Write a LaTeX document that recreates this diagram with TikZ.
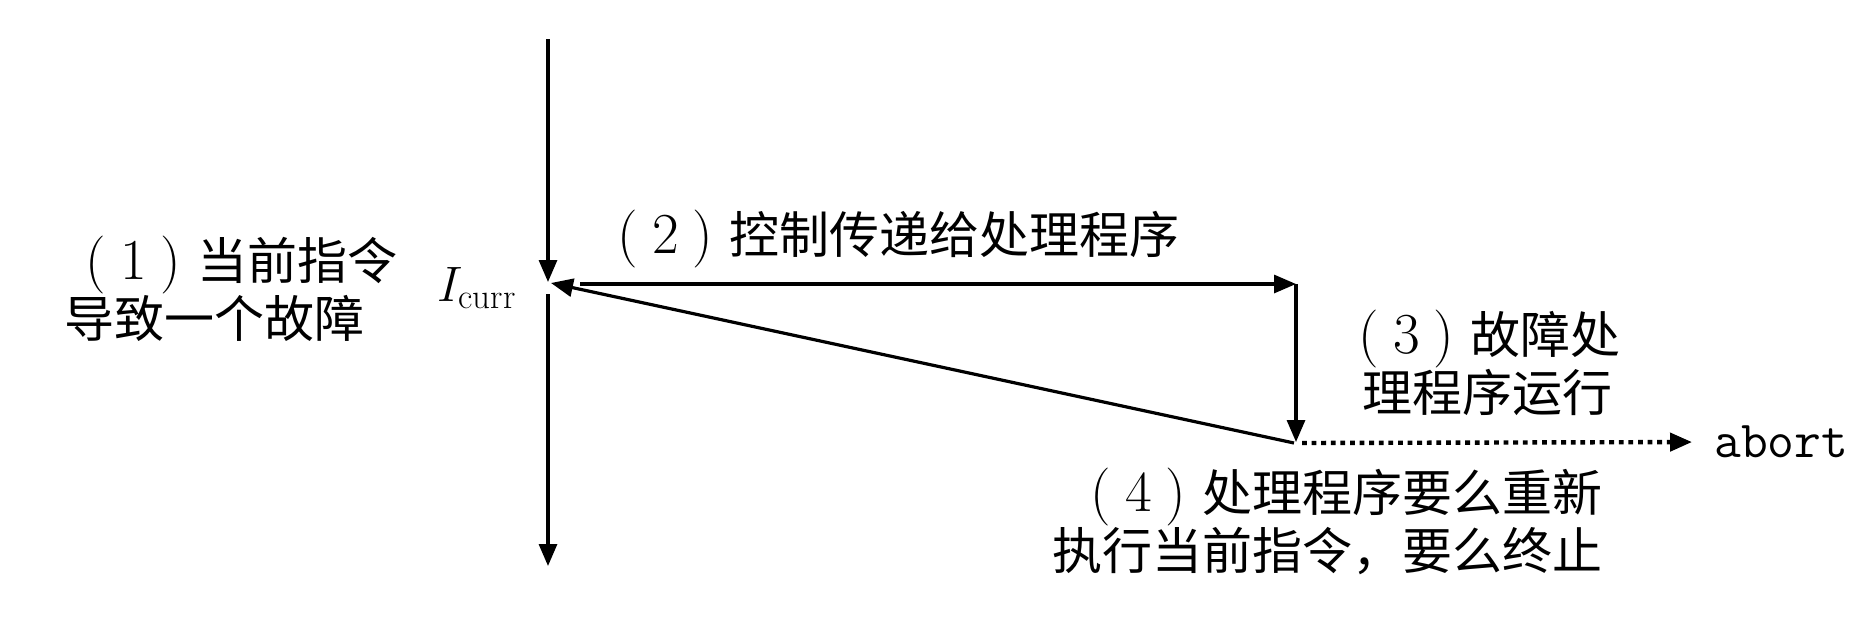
\documentclass[tikz,border=0pt]{standalone}
\usepackage{fontspec}
\newfontfamily\cjk{Noto Sans CJK SC}
\usetikzlibrary{arrows.meta}
\newcommand\pn[1]{{\rmfamily\fontsize{29pt}{29pt}\selectfont\hspace*{0.28em}(\hspace{0.24em}#1\hspace{0.24em})\hspace{0.28em}}}
\begin{document}
\begin{tikzpicture}[x=0.5pt,y=-0.5pt,
  flow/.style={line width=1.6pt,-{Triangle[length=11pt,width=9pt]}},
  dots/.style={line width=2.2pt,dash pattern=on 2.4pt off 2.4pt,-{Triangle[length=11pt,width=9pt]}},
  lbl/.style={inner sep=0pt,font=\cjk\fontsize{25pt}{29pt}\selectfont},
]
\fill[white] (0,0) rectangle (1874,616);
\useasboundingbox (0,0) rectangle (1874,616);
% points
\coordinate (top) at (548,39);
\coordinate (icurr) at (548,282);
\coordinate (icurrtip) at (551,283);
\coordinate (resume) at (548,294);
\coordinate (bottom) at (548,566);
\coordinate (hstart) at (580,284);
\coordinate (corner) at (1296,284);
\coordinate (turn) at (1296,442);
\coordinate (ret) at (1294,443);
\coordinate (dstart) at (1302,443);
% labels
\node[anchor=west,inner sep=0pt,font=\ttfamily\fontsize{26pt}{30pt}\selectfont] (abort) at (1714,442) {abort};
\node[inner sep=0pt,anchor=base east,font=\fontsize{25pt}{29pt}\selectfont] (ilabel) at (517,301) {$I_{\mathrm{curr}}$};
\node[lbl,anchor=west,align=left] (l1) at (64,289) {\hspace*{0.1em}\pn{1}当前指令\\导致一个故障};
\node[lbl,anchor=east] (l2) at (1180,239) {\pn{2}控制传递给处理程序};
\node[lbl,anchor=west,align=left] (l3) at (1342,363) {\pn{3}故障处\\\hspace*{0.4em}理程序运行};
\node[lbl,anchor=east,align=right] (l4) at (1603,521) {\pn{4}处理程序要么重新\\执行当前指令，要么终止};
% connectors
\draw[flow] (top) -- (icurr);
\draw[flow] (resume) -- (bottom);
\draw[flow] (hstart) -- (corner);
\draw[flow] (corner) -- (turn);
\draw[flow] (ret) -- (icurrtip);
\draw[dots,shorten >=11pt] (dstart) -- (abort.west);
\end{tikzpicture}
\end{document}
